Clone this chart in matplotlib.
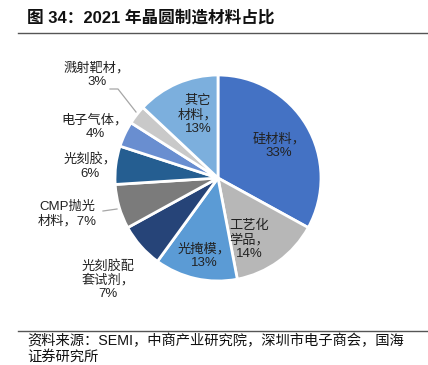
import matplotlib
matplotlib.use("Agg")
import matplotlib.pyplot as plt
from matplotlib.lines import Line2D

plt.rcParams['font.family'] = ['Liberation Sans', 'Noto Sans CJK SC', 'DejaVu Sans']

categories = ['硅材料', '工艺化学品', '光掩模', '光刻胶配套试剂', 'CMP抛光材料',
              '光刻胶', '电子气体', '溅射靶材', '其它材料']
values = [33, 14, 13, 7, 7, 6, 4, 3, 13]
labels = ['硅材料，\n33%', '工艺化\n学品，\n14%', '光掩模，\n13%', '光刻胶配\n套试剂，\n7%',
          'CMP抛光\n材料，7%', '光刻胶，\n6%', '电子气体，\n4%', '溅射靶材，\n3%', '其它\n材料，\n13%']
colors = ['#4472C4', '#B7B7B7', '#5B9BD5', '#264478', '#7B7B7B',
          '#255E91', '#698ED0', '#C9C9C9', '#7CAFDD']

W, H = 428, 365
fig = plt.figure(figsize=(W / 100, H / 100), dpi=100)
ax = fig.add_axes([0, 0, 1, 1])

cx, cy, R = 218, H - 178, 103
ax.pie(values, colors=colors, startangle=90, counterclock=False,
       center=(cx, cy), radius=R, frame=True,
       wedgeprops=dict(edgecolor='white', linewidth=2))
ax.set_xlim(0, W)
ax.set_ylim(0, H)
ax.set_aspect('equal')
ax.axis('off')

# label positions in pixel coords (x, y from top)
pos = [(279, 146), (249, 240), (204, 256), (108, 280), (67, 214),
       (90, 167), (95, 127), (97, 75), (198, 115)]
fs = 9.5
for lab, (x, y) in zip(labels, pos):
    ax.text(x, H - y, lab, ha='center', va='center', fontsize=fs,
            linespacing=1.15, color='#222222')

# leader lines
ax.add_line(Line2D([110, 118, 136], [H - 89, H - 89, H - 112], color='#A6A6A6', lw=0.9))
ax.add_line(Line2D([103, 117], [H - 211, H - 209], color='#A6A6A6', lw=0.9))

# title and separator lines
fig.text(27 / W, 1 - 18 / H, '图 34：2021 年晶圆制造材料占比', fontsize=12,
         fontweight='bold', ha='left', va='center', color='#111111')
ax.add_line(Line2D([18, W], [H - 33, H - 33], color='#555555', lw=1))
ax.add_line(Line2D([18, W], [H - 331, H - 331], color='#555555', lw=1))
fig.text(27 / W, 1 - 341 / H, '资料来源：SEMI，中商产业研究院，深圳市电子商会，国海',
         fontsize=10.3, ha='left', va='center', color='#111111')
fig.text(27 / W, 1 - 357 / H, '证券研究所', fontsize=10.3, ha='left', va='center',
         color='#111111')

fig.savefig('out.png', dpi=100)
